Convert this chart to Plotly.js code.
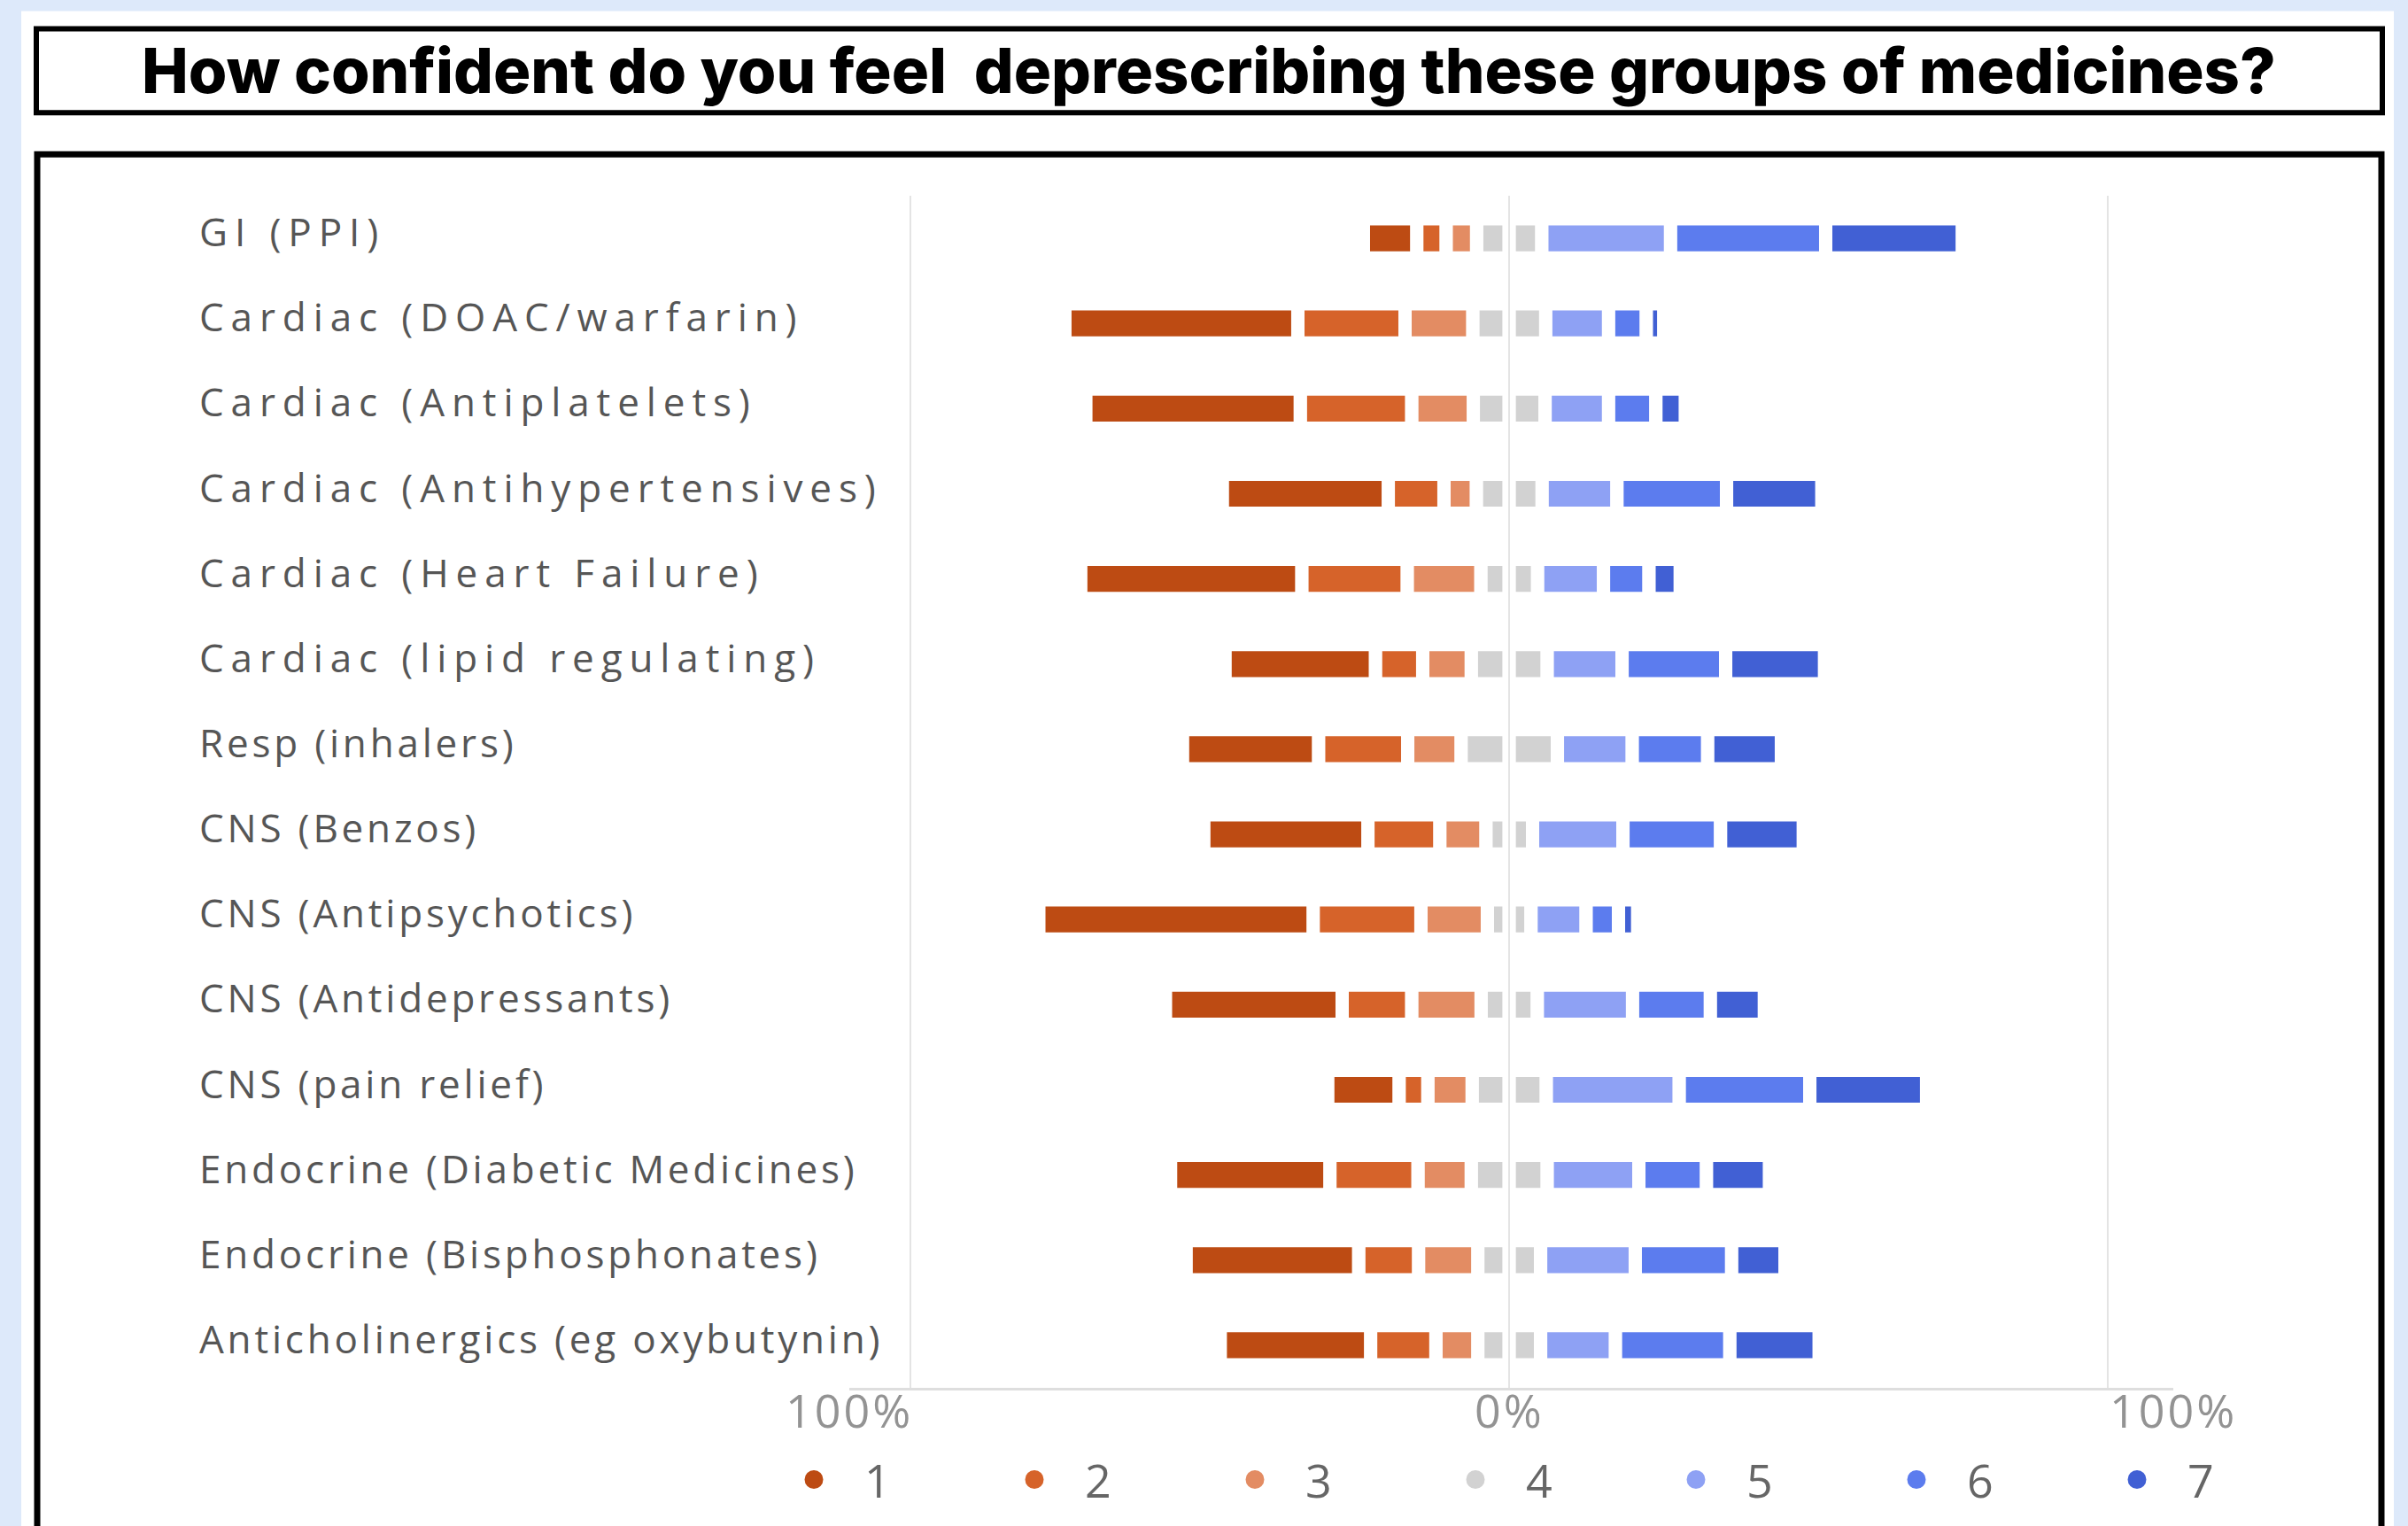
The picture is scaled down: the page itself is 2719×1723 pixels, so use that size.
<!DOCTYPE html>
<html>
<head>
<meta charset="utf-8">
<script src="https://cdn.plot.ly/plotly-3.0.1.min.js"></script>
<style>
  html, body { margin: 0; padding: 0; background: #dde9fa; }
  #chart { width: 2719px; height: 1723px; }
</style>
</head>
<body>
<div id="chart"></div>
<script>
// ---- Data (percent of respondents per confidence rating, 1 = least, 7 = most) ----
const categories = [
  "GI (PPI)",
  "Cardiac (DOAC/warfarin)",
  "Cardiac (Antiplatelets)",
  "Cardiac (Antihypertensives)",
  "Cardiac (Heart Failure)",
  "Cardiac (lipid regulating)",
  "Resp (inhalers)",
  "CNS (Benzos)",
  "CNS (Antipsychotics)",
  "CNS (Antidepressants)",
  "CNS (pain relief)",
  "Endocrine (Diabetic Medicines)",
  "Endocrine (Bisphosphonates)",
  "Anticholinergics (eg oxybutynin)"
];
const ratingLabels = ["1", "2", "3", "4", "5", "6", "7"];
const rating1 = [8.9, 38.9, 35.8, 27.7, 36.9, 25.1, 22.7, 27.4, 45.8, 29.5, 11.9, 26.6, 28.8, 25.1];
const rating2 = [4.9, 17.9, 18.6, 9.3, 17.6, 7.9, 14.9, 12.0, 18.0, 11.6, 4.8, 14.7, 10.0, 10.9];
const rating3 = [5.1, 11.3, 10.3, 5.4, 12.3, 8.1, 8.9, 7.7, 11.1, 11.6, 7.4, 8.9, 9.9, 7.0];
const rating4 = [10.9, 12.2, 12.0, 11.0, 9.5, 12.7, 16.1, 7.8, 7.3, 9.4, 12.4, 12.7, 10.5, 10.5];
const rating5 = [21.5, 10.5, 10.6, 12.5, 11.0, 12.5, 12.5, 15.1, 9.2, 15.9, 22.2, 15.3, 15.8, 12.5];
const rating6 = [25.9, 6.3, 7.9, 18.3, 7.6, 17.3, 12.6, 16.3, 5.4, 13.0, 21.8, 11.3, 16.1, 19.1];
const rating7 = [22.8, 2.9, 4.9, 15.9, 5.2, 16.5, 12.3, 13.8, 3.2, 9.0, 19.5, 10.5, 8.9, 14.9];
const axisTickText = ["100%", "0%", "100%"];
const titleText = "How confident do you feel\u00a0 deprescribing these groups of medicines?";

// ---- Styling ----
const colors = ["#bd4b13", "#d6632a", "#e38c63", "#d2d2d2", "#8ea1f4", "#5c7cee", "#4160d4"];
const W = 2719, H = 1723;
const M = { l: 959, r: 265, t: 221, b: 152 };
const X_RANGE = [-110.2, 110.9];
const plotW = W - M.l - M.r, plotH = H - M.t - M.b;
const px2x = px => (px - M.l) / plotW;
const py2y = py => (H - M.b - py) / plotH;

const SEG_GAP = 15;      // white separator between segments (px)
const BAR_W = 0.46;      // bar thickness (category units)

function barTrace(xvals, idx) {
  return {
    type: "bar", orientation: "h",
    y: categories, x: xvals,
    width: BAR_W,
    marker: { color: colors[idx], line: { color: "#ffffff", width: SEG_GAP } },
    showlegend: false, hoverinfo: "skip", name: ratingLabels[idx]
  };
}
const neg = a => a.map(v => -v);
const half = a => a.map(v => v / 2);

const traces = [
  barTrace(neg(half(rating4)), 3),
  barTrace(neg(rating3), 2),
  barTrace(neg(rating2), 1),
  barTrace(neg(rating1), 0),
  barTrace(half(rating4), 3),
  barTrace(rating5, 4),
  barTrace(rating6, 5),
  barTrace(rating7, 6)
];
// legend entries (circle markers)
ratingLabels.forEach((lab, i) => {
  traces.push({
    type: "scatter", mode: "markers", x: [null], y: [null],
    name: lab,
    marker: { color: colors[i], size: 16, symbol: "circle", line: { color: colors[i], width: 5 } },
    showlegend: true, hoverinfo: "skip"
  });
});

const annotations = [];
categories.forEach((c, i) => {
  const spacing = i < 6 ? 7.9 : 3.8;
  annotations.push({
    xref: "paper", yref: "y", x: px2x(223), y: c, yshift: 8,
    xanchor: "left", yanchor: "middle", showarrow: false,
    text: '<span style="letter-spacing:' + spacing + 'px">' + c + '</span>',
    font: { family: "Open Sans, sans-serif", size: 44, color: "#565656" }
  });
});
[0, -X_RANGE[0] / (X_RANGE[1] - X_RANGE[0]), 1].forEach((xp, i) => {
  annotations.push({
    xref: "paper", yref: "paper", x: xp, y: py2y(1596),
    xanchor: "center", yanchor: "middle", showarrow: false,
    text: '<span style="letter-spacing:3px">' + axisTickText[i] + '</span>',
    font: { family: "Open Sans, sans-serif", size: 52, color: "#939393" }
  });
});

const shapes = [
  { type: "rect", xref: "paper", yref: "paper", layer: "below",
    x0: px2x(24), x1: px2x(2703), y0: py2y(1760), y1: py2y(12),
    fillcolor: "#ffffff", line: { width: 0 } },
  { type: "rect", xref: "paper", yref: "paper", layer: "below",
    x0: px2x(41), x1: px2x(2690), y0: py2y(127), y1: py2y(32),
    line: { color: "#000000", width: 6 } },
  { type: "rect", xref: "paper", yref: "paper", layer: "below",
    x0: px2x(42), x1: px2x(2689), y0: py2y(1780), y1: py2y(174),
    line: { color: "#000000", width: 7 } }
];

const layout = {
  width: W, height: H,
  margin: M,
  paper_bgcolor: "#dde9fa",
  plot_bgcolor: "#ffffff",
  barmode: "relative",
  showlegend: true,
  title: {
    text: titleText,
    xref: "container", yref: "container", x: 0.502, y: 1 - 80 / H,
    xanchor: "center", yanchor: "middle",
    font: { family: "Inter, sans-serif", size: 70.5, color: "#000000", weight: 800 }
  },
  xaxis: {
    range: X_RANGE,
    tickvals: [-100, 0, 100],
    showticklabels: false,
    showgrid: true, gridcolor: "#e4e4e4", gridwidth: 2,
    zeroline: true, zerolinecolor: "#e4e4e4", zerolinewidth: 2, zerolinelayer: "above traces",
    showline: true, linecolor: "#dedede", linewidth: 3,
    ticks: "", fixedrange: true
  },
  yaxis: {
    type: "category",
    categoryorder: "array", categoryarray: categories,
    range: [categories.length - 0.5, -0.5],
    showticklabels: false, showgrid: false, zeroline: false, showline: false,
    ticks: "", fixedrange: true
  },
  legend: {
    orientation: "h",
    x: px2x(862), xanchor: "left",
    y: py2y(1675), yanchor: "middle",
    font: { family: "Open Sans, sans-serif", size: 52, color: "#666666" },
    itemwidth: 104, entrywidth: 130, entrywidthmode: "pixels",
    bgcolor: "rgba(0,0,0,0)", itemclick: false, itemdoubleclick: false
  },
  annotations: annotations,
  shapes: shapes
};

Plotly.newPlot("chart", traces, layout, { staticPlot: true, displayModeBar: false });
</script>
</body>
</html>
